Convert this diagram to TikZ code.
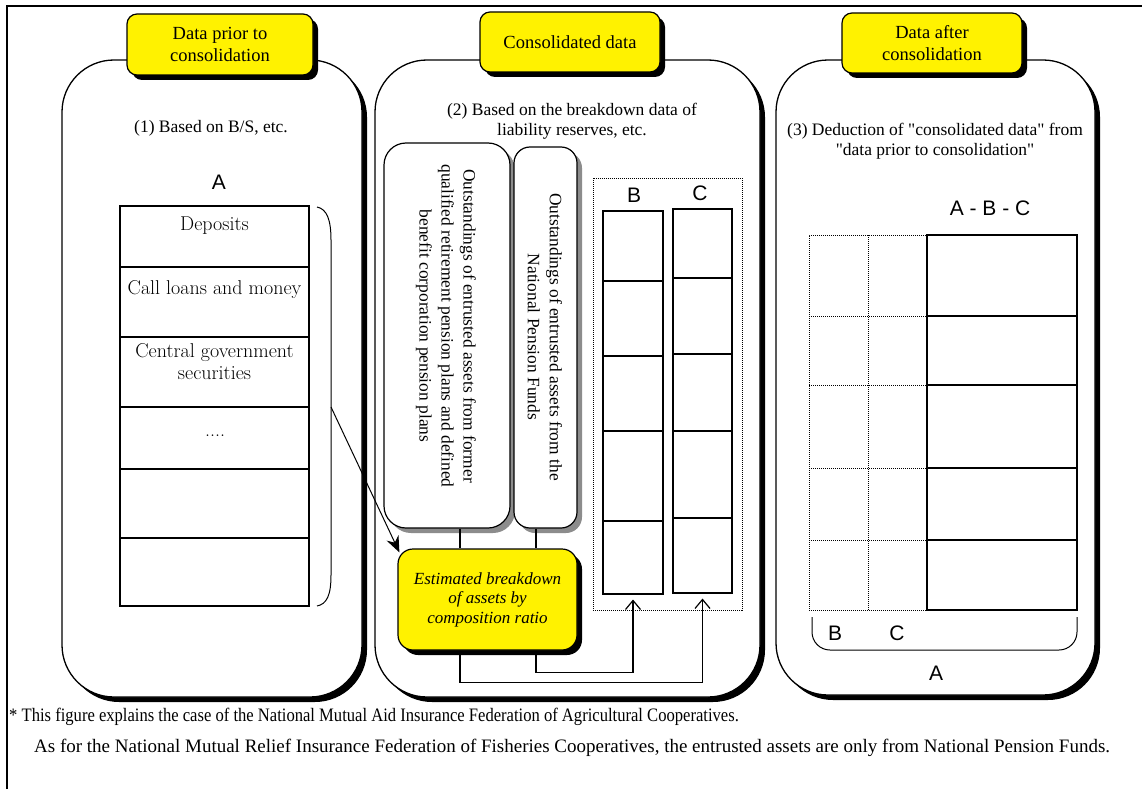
\documentclass[tikz,border=0pt]{standalone}
\usepackage{fontspec}
\usepackage{graphicx}
\newfontfamily\tnr{Liberation Serif}
\newfontfamily\arial{Liberation Sans}
\usetikzlibrary{shadows,arrows.meta,calc}

\tikzset{
  blackshadow/.style={drop shadow={shadow xshift=5pt, shadow yshift=-5pt, fill=black, opacity=1}},
  greyshadow/.style={drop shadow={shadow xshift=5pt, shadow yshift=-5pt, fill=black!45, opacity=1}},
  panel/.style={draw, line width=1.3pt, fill=white, rounded corners=52pt, inner sep=0pt, blackshadow},
  head/.style={draw, line width=1.2pt, fill=yellow, rounded corners=10pt, inner sep=0pt, align=center,
    font=\tnr\fontsize{18.5}{22}\selectfont, blackshadow},
  vbox/.style={draw, line width=1.2pt, fill=white, inner sep=0pt, greyshadow},
  vtxt/.style={rotate=-90, align=center, inner sep=0pt, font=\tnr\fontsize{17.4}{22}\selectfont},
  estbox/.style={draw, line width=1.2pt, fill=yellow, rounded corners=15pt, inner sep=0pt, align=center,
    font=\tnr\itshape\fontsize{17}{19.5}\selectfont, blackshadow},
  txt/.style={font=\tnr\fontsize{17.5}{20}\selectfont, inner sep=0pt, align=center},
  sans/.style={font=\arial\fontsize{21}{24}\selectfont, inner sep=0pt},
  cell/.style={font=\fontsize{20}{22}\selectfont, inner sep=0pt, align=center},
  note/.style={font=\tnr\fontsize{19}{22}\selectfont, inner sep=0pt, anchor=west},
  solidbox/.style={draw, line width=1.1pt, inner sep=0pt},
  dotbox/.style={draw, densely dotted, line width=1pt, inner sep=0pt},
  rule/.style={line width=1.3pt},
  conn/.style={line width=1.2pt},
  openhead/.style={conn, -{Straight Barb[length=9pt,width=15pt]}},
}

\begin{document}
\begin{tikzpicture}[x=1pt,y=-1pt]
\useasboundingbox (0,0) rectangle (1142,789);
\fill[white] (0,0) rectangle (1142,789);

% frame
\draw[line width=1.2pt] (7,789) -- (7,6) -- (1142,6);

% three panels
\node[panel, minimum width=300pt, minimum height=637pt] (p1) at (212,378.5) {};
\node[panel, minimum width=385pt, minimum height=637pt] (p2) at (567.5,378.5) {};
\node[panel, minimum width=319pt, minimum height=635pt] (p3) at (935.5,377.5) {};

% panel headings
\node[head, minimum width=186pt, minimum height=61pt] (h1) at (220,44.5) {Data prior to\\consolidation};
\node[head, minimum width=180pt, minimum height=60pt] (h2) at (570,42) {Consolidated data};
\node[head, minimum width=180pt, minimum height=60pt] (h3) at (932,43) {Data after\\consolidation};

% ---- panel 1: data prior to consolidation
\node[txt] (s1) at (211,128) {(1) Based on B/S, etc.};
\node[sans] (la) at (219,182) {A};
\node[solidbox, minimum width=189pt, minimum height=400pt] (ta) at (214.5,406) {};
\foreach \yy in {267,337,407,469,538}
  \draw[rule] (119,\yy) -- (309,\yy);
\node[cell] (r1) at (214.5,226) {Deposits};
\node[cell] (r2) at (214.5,290) {Call loans and money};
\node[cell] (r3) at (214.5,361.5) {Central government\\securities};
\node[cell] (r4) at (215,436) {....};
% bracket around A
\draw[line width=1pt] (317,207) .. controls (327,209) and (331,220) .. (331,240)
  -- (331,575) .. controls (331,595) and (327,604) .. (317,606);
\coordinate (brk) at (331,407);

% ---- panel 2: consolidated data
\node[txt] (s2) at (572,121.5) {(2) Based on the breakdown data of\\liability reserves, etc.};
\node[vbox, rounded corners=22pt, minimum width=126pt, minimum height=385pt] (v1) at (447,335.5) {};
\node[vbox, rounded corners=16pt, minimum width=63pt, minimum height=381pt] (v2) at (545.5,337.5) {};
\node[vtxt] (t1) at (446,326) {Outstandings of entrusted assets from former\\qualified retirement pension plans and defined\\benefit corporation pension plans};
\node[vtxt] (t2) at (545,337) {Outstandings of entrusted assets from the\\National Pension Funds};
\node[estbox, minimum width=179pt, minimum height=101pt] (est) at (487.5,599.5) {Estimated breakdown\\of assets by\\composition ratio};

\node[dotbox, minimum width=149pt, minimum height=432pt] (dot) at (667.5,394) {};
\node[sans] (lb) at (634,195) {B};
\node[sans] (lc) at (700,193) {C};
\node[solidbox, minimum width=60pt, minimum height=383pt] (cb) at (633,402.5) {};
\node[solidbox, minimum width=59pt, minimum height=384pt] (cc) at (702.5,401) {};
\foreach \yy in {281,356,431,521}
  \draw[rule] (603,\yy) -- (664,\yy);
\foreach \yy in {278,354,431,518}
  \draw[rule] (673,\yy) -- (733,\yy);

% connectors
\draw[conn] ([xshift=13pt]v1.south) -- ([xshift=13pt]v1.south |- est.north);
\draw[conn] ([xshift=-9.5pt]v2.south) -- ([xshift=-9.5pt]v2.south |- est.north);
\draw[openhead] ([xshift=-27.5pt]est.south) -- ++(0,32) -| ([yshift=-5pt]cc.south);
\draw[openhead] ([xshift=48.5pt]est.south) -- ++(0,22) -| ([yshift=-5pt]cb.south);
\draw[line width=1pt, -{Stealth[length=16pt,width=13pt]}] (brk) -- ([shift={(2,4)}]est.north west);

% ---- panel 3: data after consolidation
\node[txt] (s3) at (935,141) {(3) Deduction of "consolidated data" from\\"data prior to consolidation"};
\node[sans] (labc) at (990,208) {A - B - C};
\node[dotbox, minimum width=118pt, minimum height=375pt] (gbc) at (868,422.5) {};
\draw[densely dotted, line width=1pt] (868,235) -- (868,610);
\foreach \yy in {316,385,468,540}
  \draw[densely dotted, line width=1pt] (809,\yy) -- (927,\yy);
\node[solidbox, minimum width=150pt, minimum height=375pt] (gr) at (1002,422.5) {};
\foreach \yy in {316,385,468,540}
  \draw[rule] (927,\yy) -- (1078,\yy);
\draw[line width=1pt, rounded corners=18pt] (812,617) -- (812,650) -- (1077,650) -- (1077,617);
\node[sans] (lb2) at (835,633) {B};
\node[sans] (lc2) at (897,633) {C};
\node[sans] (la2) at (936,673) {A};

% notes
\node[note] (n1) at (9,717) {\scalebox{0.873}[1]{* This figure explains the case of the National Mutual Aid Insurance Federation of Agricultural Cooperatives.}};
\node[note] (n2) at (34,748) {As for the National Mutual Relief Insurance Federation of Fisheries Cooperatives, the entrusted assets are only from National Pension Funds.};
\end{tikzpicture}
\end{document}
